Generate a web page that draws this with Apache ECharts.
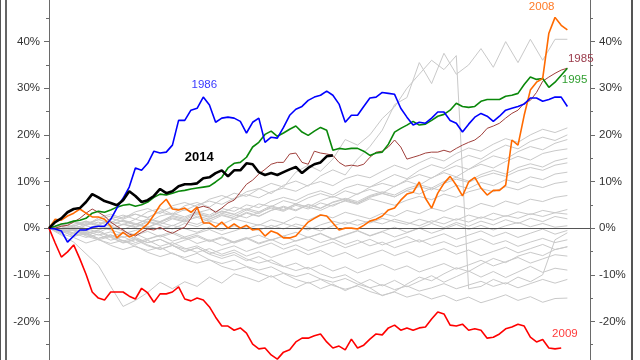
<!DOCTYPE html>
<html><head><meta charset="utf-8">
<script src="https://cdn.jsdelivr.net/npm/echarts@6.0.0/dist/echarts.min.js"></script>
<style>html,body{margin:0;padding:0;background:#fff}#c{width:640px;height:360px}</style>
</head><body><div id="c"></div>
<script>
// ---- data: cumulative year-to-date return (%) ----
const STEP_HL = 3;    // trading days between samples (highlighted years)
const STEP_GREY = 6;  // trading days between samples (other years)
const Y_MIN = -30, Y_MAX = 50, Y_STEP = 10, X_MAX = 263;

const y1985 = [0,0,0.4,0.6,1.3,2.1,3.2,4.1,3.4,2.6,1.3,0.4,-0.4,-1.3,-1.7,-0.9,-0.2,-0.4,0.2,-0.6,-1.1,-0.4,0.2,2.1,4.3,4.7,4.3,3.4,4.3,5.4,6,7.7,9.4,10.3,11.6,12.6,13.7,14.1,14.1,15.9,16.1,14.1,13.7,16.5,16.1,15.9,15.6,14.1,13.3,13.5,13.3,13.7,15.2,16.3,16.5,17.4,18.9,17.4,14.8,15.2,15.6,16.1,16.3,16.3,16.7,16.3,17.1,17.8,18.4,18.9,19.9,21.4,21.9,22.5,23.6,24.6,25.3,26.8,27.4,29.1,31.5,32.4,33.2,33.9,34.3];
const y1986 = [0,-0.2,-0.6,-3,-1.7,-0.4,-0.4,0.2,0.4,0.4,1.9,4.3,6.4,8.8,12.9,12.4,13.9,16.5,16.1,16.3,17.8,23.1,23.1,25.3,25.7,28.1,26.4,22.7,23.6,23.8,23.6,22.9,20.4,22.7,23.6,18.4,19.5,19.3,21.6,24.2,25.5,26.1,27.4,28.1,28.5,29.4,28.5,26.6,22.7,24.2,24.2,26.1,27.9,28.1,29.1,28.9,28.7,25.7,23.8,22.1,22.7,22.5,23.6,24.9,24.9,23.1,22.5,20.6,22.3,23.8,24.6,24,22.9,24,25.3,25.7,26.1,26.6,27.9,27.9,27.2,27.6,28.1,28.1,26.1];
const y1995 = [0,0.4,0.9,1.1,1.5,1.7,2.1,3.2,3.6,3.4,3.9,4.5,4.9,5.1,4.7,5,5.6,6.6,7.3,7.1,7.5,7.9,8.1,8.4,8.6,8.8,9,9.9,10.9,12.9,13.9,14.1,15.2,17.4,18.4,20.1,20.8,19.7,20.4,21.2,21.9,20.6,19.9,20.8,21.6,21,16.7,17.1,16.9,17.1,17.1,16.5,15.6,16.1,16.3,18,20.6,21.4,22.1,22.9,22.1,22.3,23.1,24,24.4,25.3,26.8,26.1,25.9,26.1,27.2,27.6,27.6,27.6,28.3,28.5,28.9,30.8,32.4,31.9,32.1,30.2,31.3,32.8,34.3];
const y2008 = [0,1.9,1.7,2.6,3.2,4.1,3.2,2.4,2.4,1.9,0.4,-2.1,-0.9,-1.9,-1.3,-0.2,0.9,2.8,4.9,6.2,4.1,3.9,4.3,3.4,4.5,1.1,1.1,0.2,1.3,0,0.9,0,0.6,-0.4,-0.2,-1.7,-0.6,-1.1,-2.1,-2.1,-1.7,-0.2,1.3,2.1,2.8,2.6,1.1,-0.4,0,0,-0.2,0.6,1.5,1.9,2.6,3.9,4.3,6,7.3,7.7,9.9,6.4,4.3,7.5,9.6,11.1,9.2,6.9,9.9,10.9,8.6,7.1,8.1,8.1,9.2,18.9,17.8,24.2,29.6,31.3,32.1,41.8,45.2,43.5,42.5];
const y2009 = [0,-3.2,-6.2,-5.1,-3.6,-6.6,-9.9,-13.7,-15,-15.4,-13.7,-13.7,-13.7,-14.6,-15.2,-12.9,-13.9,-15.9,-14.1,-14.1,-13.7,-12.6,-15.2,-15.6,-15,-15.4,-16.9,-19.1,-21,-21,-21.9,-21.4,-22.5,-24.9,-25.9,-25.7,-27.2,-28.1,-26.6,-26.1,-24.4,-23.6,-23.6,-23.1,-22.7,-24.4,-25.7,-25.3,-26.1,-23.8,-25.7,-25.1,-23.8,-22.7,-22.9,-21.4,-20.8,-21.9,-21.4,-21.9,-21.4,-21.2,-19.5,-18,-18.4,-20.8,-21,-20.6,-21.9,-21.6,-21.9,-23.6,-23.4,-22.7,-21.6,-21.2,-20.6,-21,-23.4,-24.4,-23.9,-25.7,-25.9,-25.7];
const y2014 = [0,1.3,2.1,3.4,4.1,4.3,5.6,7.3,6.6,5.8,5.4,4.9,6,7.9,6.9,5.6,6,6.9,8.4,7.5,7.9,9,9.4,9.4,9.6,10.7,10.9,11.8,12.4,11.1,12.4,12.4,13.9,13.7,12,11.4,11.8,11.4,12,12.6,13.1,11.8,12.9,13.7,14.1,15.4,15.6];

const otherYears = [
 [0,0.8,1.5,0.6,2.2,3.0,2.1,3.5,4.2,3.1,4.8,5.5,4.6,6.2,7.0,6.1,7.8,8.5,7.4,9.2,10.1,9.0,11.2,12.5,11.4,14.8,17.5,21.0,26.5,28.0,35.5,31.0,37.5,33.0,35.0,38.5,34.5,40.0,35.5,40.5,36.0,40.5,40.5],
 [0,-0.5,0.8,1.5,0.5,2.0,2.8,1.9,3.5,4.2,3.0,4.8,5.5,4.5,6.2,7.5,6.8,8.4,9.6,8.8,12.0,13.5,12.2,14.8,19.0,17.8,20.0,23.5,26.0,30.0,33.0,36.0,34.0,37.0,-13.0,-12.5,-11.0,-12.0,-10.5,-11.5,-10.0,-2.5,-1.0],
 [0,0.4,-0.3,1.0,1.8,1.2,2.4,3.0,2.2,3.6,4.4,3.8,5.0,5.8,5.1,6.4,7.2,6.5,7.8,8.6,7.9,9.2,10.0,9.1,10.6,11.4,10.8,12.2,13.5,12.6,14.0,15.2,14.4,16.0,17.2,16.5,18.0,19.2,18.4,20.0,21.2,20.5,21.5],
 [0,-0.6,0.2,-0.4,0.8,1.5,0.7,1.9,1.2,2.6,3.2,2.4,3.5,2.8,4.2,3.6,5.0,4.4,5.8,6.6,5.9,7.2,8.0,7.1,8.6,9.4,8.8,10.2,11.5,10.6,12.4,13.6,12.8,14.4,15.6,14.8,16.5,17.8,17.0,18.6,19.5,18.8,20.0],
 [0,0.6,1.2,0.5,-0.2,0.9,1.6,0.8,2.0,1.4,2.7,2.1,3.3,4.0,3.2,4.5,3.9,5.2,4.6,5.9,5.2,6.5,7.4,6.6,8.0,7.2,8.8,9.6,8.9,10.4,11.5,10.7,12.3,13.4,12.6,14.2,15.5,14.8,16.4,17.5,16.8,18.2,19.0],
 [0,-0.3,-1.0,-0.4,0.5,-0.2,0.9,0.3,1.5,0.8,2.0,1.3,2.6,1.9,3.2,2.5,3.9,3.1,4.6,3.8,5.2,4.5,5.9,6.8,6.0,7.4,8.3,7.5,9.0,10.1,9.2,10.8,11.9,11.0,12.6,13.7,12.9,14.3,15.4,14.6,16.0,16.6,17.0],
 [0,0.3,-0.5,0.6,1.3,0.4,1.7,1.0,0.2,1.4,2.2,1.5,0.8,2.0,2.9,2.1,3.4,2.6,3.8,4.7,3.9,5.1,4.3,5.6,6.4,5.7,7.0,7.8,7.1,8.5,9.3,8.6,10.0,10.9,10.1,11.5,12.4,11.6,13.0,13.8,13.1,14.4,15.0],
 [0,-0.8,-0.2,-1.1,-0.4,0.4,-0.3,0.8,0.1,1.2,0.5,1.6,2.3,1.5,2.7,2.0,3.2,2.5,3.8,4.5,3.7,5.0,4.2,5.5,6.2,5.4,6.8,7.5,6.7,8.1,8.9,8.2,9.6,10.5,9.8,11.0,11.8,11.1,12.3,13.0,12.4,13.5,14.0],
 [0,0.9,0.3,1.5,0.8,2.1,1.4,0.7,1.9,1.2,2.5,1.8,3.0,2.3,3.6,2.9,2.2,3.4,4.3,3.6,4.9,4.1,5.4,4.7,6.0,5.3,6.6,7.4,6.7,8.0,7.3,8.6,7.9,9.2,8.5,9.8,9.1,10.4,9.7,11.0,10.4,11.6,12.0],
 [0,0.5,1.4,0.7,1.8,2.6,1.9,3.0,2.3,3.5,2.8,4.0,3.2,2.5,3.7,3.0,4.2,3.5,4.8,4.0,5.2,4.5,3.8,5.0,5.8,5.1,6.3,5.6,4.9,6.0,6.8,6.1,7.3,6.6,7.8,8.5,7.8,8.9,8.2,9.3,8.7,9.6,10.0],
 [0,-0.4,0.5,1.2,0.4,-0.3,0.8,0.1,1.3,0.6,-0.2,1.0,0.3,1.5,0.8,2.0,1.3,0.6,1.8,1.1,2.4,1.7,2.9,2.2,3.4,2.7,2.0,3.2,2.5,3.8,3.1,4.3,3.6,4.8,4.1,5.3,4.6,5.8,5.1,6.2,5.7,6.6,7.0],
 [0,0.7,0.1,-0.6,0.3,-0.4,-1.2,-0.5,0.4,-0.3,0.6,-0.1,-0.9,0.2,-0.5,0.5,-0.2,0.8,0.1,1.0,0.3,-0.4,0.7,1.5,0.8,1.8,1.1,2.1,1.4,0.8,1.9,1.2,2.4,1.7,2.8,2.1,3.2,2.5,3.5,2.9,3.8,3.3,4.0],
 [0,-0.5,-1.3,-0.6,-1.5,-0.8,-2.0,-1.2,-2.4,-1.6,-0.8,-1.9,-1.1,-0.3,-1.4,-0.6,0.3,-0.5,0.6,-0.2,0.9,0.2,-0.6,0.5,1.3,0.6,1.6,0.9,1.9,1.2,0.5,1.6,0.9,2.0,1.3,2.4,1.7,2.7,2.1,3.1,2.5,3.3,3.0],
 [0,-0.4,0.6,-0.1,-0.9,0.2,-0.6,-1.5,-0.7,-1.9,-1.1,-2.3,-1.5,-2.7,-1.9,-3.0,-2.2,-3.4,-2.5,-1.7,-2.8,-2.0,-1.1,-2.3,-1.4,-0.5,-1.6,-0.7,0.2,-0.9,0.0,1.0,0.1,1.2,0.4,1.5,0.7,1.8,1.0,2.1,1.4,2.5,2.0],
 [0,-0.9,-0.2,-1.4,-2.2,-1.5,-2.8,-2.0,-3.1,-2.4,-3.5,-2.6,-1.8,-2.9,-2.1,-3.2,-2.3,-1.5,-2.6,-1.7,-0.9,-2.0,-1.2,-2.4,-1.5,-0.6,-1.7,-0.8,-1.9,-1.0,0.0,-1.1,-0.2,0.8,-0.3,0.6,-0.4,0.5,1.2,0.3,1.0,0.2,0.5],
 [0,0.3,-0.6,-1.5,-0.8,-2.0,-3.2,-2.5,-3.8,-4.6,-3.7,-5.0,-4.2,-5.5,-4.6,-3.8,-5.0,-4.1,-3.2,-4.5,-3.6,-4.8,-3.9,-3.0,-4.2,-3.3,-2.4,-3.6,-2.7,-1.8,-3.0,-2.1,-1.2,-2.4,-1.5,-0.6,-1.8,-0.9,-2.0,-1.1,-0.2,-1.3,-0.5],
 [0,-0.3,-1.1,-2.0,-1.3,-2.6,-1.8,-3.1,-2.3,-1.5,-2.8,-2.0,-3.3,-2.5,-3.7,-2.9,-2.0,-3.2,-2.4,-3.6,-2.7,-1.9,-3.1,-2.3,-3.5,-2.6,-3.8,-3.0,-4.2,-3.3,-2.5,-3.7,-2.9,-4.0,-3.2,-2.3,-3.5,-2.7,-3.9,-3.0,-2.2,-3.1,-2.5],
 [0,-0.7,-1.6,-0.9,-2.2,-1.4,-2.7,-3.5,-2.6,-3.9,-3.1,-4.3,-5.2,-4.4,-5.6,-4.7,-6.0,-5.1,-6.3,-5.4,-4.5,-5.7,-4.8,-6.1,-5.2,-6.5,-5.6,-4.7,-5.9,-5.0,-6.2,-5.3,-4.4,-5.6,-4.7,-5.9,-5.0,-4.1,-5.3,-4.4,-3.5,-4.6,-4.0],
 [0,-1.0,-0.3,-1.7,-2.5,-1.8,-3.1,-2.3,-3.6,-4.5,-3.7,-5.1,-4.2,-5.6,-6.5,-5.7,-7.0,-6.1,-7.4,-8.3,-7.5,-8.8,-7.9,-9.2,-8.3,-9.6,-8.7,-7.8,-9.0,-8.1,-9.4,-8.5,-7.6,-8.8,-7.9,-6.9,-8.1,-7.2,-6.3,-7.5,-6.6,-5.7,-6.0],
 [0,-1.5,-3.0,-5.5,-8.0,-12.5,-16.8,-15.5,-13.8,-11.6,-13.0,-11.5,-12.5,-10.5,-11.8,-9.8,-10.6,-11.5,-10.2,-11.8,-12.8,-11.6,-13.0,-12.0,-13.4,-12.2,-11.0,-12.4,-11.2,-12.6,-11.4,-10.2,-11.6,-10.4,-9.2,-10.5,-9.3,-10.6,-9.4,-8.2,-9.5,-8.6,-9.0],
 [0,-0.6,-1.8,-1.1,-2.5,-3.3,-2.6,-4.0,-4.8,-4.1,-5.5,-6.3,-5.4,-6.8,-7.6,-6.9,-8.2,-9.0,-8.3,-9.6,-10.4,-9.7,-10.9,-11.6,-10.8,-12.0,-12.8,-12.1,-13.2,-12.4,-13.5,-12.8,-11.9,-13.0,-12.2,-11.4,-12.5,-11.7,-12.8,-11.9,-11.0,-11.8,-11.0],
 [0,-1.2,-2.0,-3.2,-2.4,-3.7,-4.6,-3.8,-5.2,-6.1,-5.3,-6.7,-7.5,-6.8,-8.2,-9.0,-8.3,-9.6,-10.5,-9.7,-11.0,-11.8,-11.0,-12.3,-13.1,-12.4,-13.6,-14.4,-13.7,-14.8,-14.1,-15.2,-14.4,-15.6,-14.8,-16.0,-15.2,-14.3,-15.5,-14.7,-15.9,-15.1,-15.0],
 [0,0.5,-0.4,-1.2,-0.5,-1.8,-1.0,-2.3,-3.1,-2.4,-3.7,-4.5,-3.8,-5.1,-6.0,-5.2,-6.6,-7.5,-6.8,-8.2,-9.1,-8.4,-9.8,-10.7,-10.0,-11.5,-12.8,-14.5,-13.6,-12.0,-10.5,-11.3,-9.8,-8.5,-9.3,-7.8,-6.5,-7.4,-6.0,-5.2,-5.9,-4.6,-4.0]
];

// ---- presentation ----
const highlights = [
  {name:'1985', values:y1985, color:'#a0403c', width:1,   labelColor:'#9b3b4b', at:[258.5,36.3], bold:false},
  {name:'1995', values:y1995, color:'#0a880a', width:1.6, labelColor:'#2f9e2f', at:[255.5,31.7], bold:false},
  {name:'2008', values:y2008, color:'#ff6a00', width:1.6, labelColor:'#ff7a26', at:[239.5,47.5], bold:false},
  {name:'2009', values:y2009, color:'#ff0000', width:1.6, labelColor:'#ff3b3b', at:[250.8,-22.7], bold:false},
  {name:'1986', values:y1986, color:'#0000ff', width:1.6, labelColor:'#3a3aff', at:[75.5,30.7], bold:false},
  {name:'2014', values:y2014, color:'#000000', width:2.6, labelColor:'#000000', at:[73,15.2], bold:true}
];

const toPts = (vals, step) => vals.map((v, i) => [i * step, v]);

const series = [];
otherYears.forEach((vals, i) => {
  series.push({
    type:'line', name:'other'+i, data:toPts(vals, STEP_GREY), showSymbol:false, silent:true,
    lineStyle:{color:'#c9c9c9', width:1}, z:1
  });
});
highlights.forEach((h, i) => {
  series.push({
    type:'line', name:h.name, data:toPts(h.values, STEP_HL), showSymbol:false, silent:true,
    lineStyle:{color:h.color, width:h.width}, z:3 + i,
    markPoint:{
      symbol:'rect', symbolSize:1, itemStyle:{color:'rgba(0,0,0,0)'}, silent:true,
      label:{show:true, position:'inside', formatter:h.name, color:h.labelColor,
        fontFamily:'Liberation Sans, Arial, sans-serif', fontSize:h.bold ? 13 : 11.5,
        fontWeight:h.bold ? 'bold' : 'normal'},
      data:[{coord:h.at}]
    }
  });
});

const yAxisCommon = {
  type:'value', min:Y_MIN, max:Y_MAX, interval:Y_STEP,
  splitLine:{show:false},
  axisLine:{show:true, lineStyle:{color:'#6a6a6a', width:1}},
  axisTick:{show:true, length:5, lineStyle:{color:'#6a6a6a'}},
  minorTick:{show:true, splitNumber:2, length:3, lineStyle:{color:'#6a6a6a'}},
  axisLabel:{formatter:'{value}%', color:'#333', fontSize:11.5, margin:9,
    fontFamily:'Liberation Sans, Arial, sans-serif', showMinLabel:false, showMaxLabel:false}
};

const chart = echarts.init(document.getElementById('c'), null, {renderer:'canvas'});
chart.setOption({
  animation:false,
  backgroundColor:'#ffffff',
  grid:{left:49, right:50, top:-5, bottom:-8, containLabel:false, outerBoundsMode:'none'},
  xAxis:{type:'value', min:0, max:X_MAX, z:2,
    axisLine:{show:true, onZero:true, onZeroAxisIndex:0, lineStyle:{color:'#555', width:1}},
    axisTick:{show:false}, axisLabel:{show:false}, splitLine:{show:false}},
  yAxis:[Object.assign({position:'left'}, yAxisCommon), Object.assign({position:'right'}, yAxisCommon)],
  series:series,
  graphic:[
    {type:'line', shape:{x1:0.5, y1:0, x2:0.5, y2:360}, style:{stroke:'#555', lineWidth:1}},
    {type:'line', shape:{x1:6, y1:0, x2:6, y2:360}, style:{stroke:'#666', lineWidth:2}},
    {type:'line', shape:{x1:632, y1:0, x2:632, y2:360}, style:{stroke:'#555', lineWidth:2}}
  ]
});
</script></body></html>
